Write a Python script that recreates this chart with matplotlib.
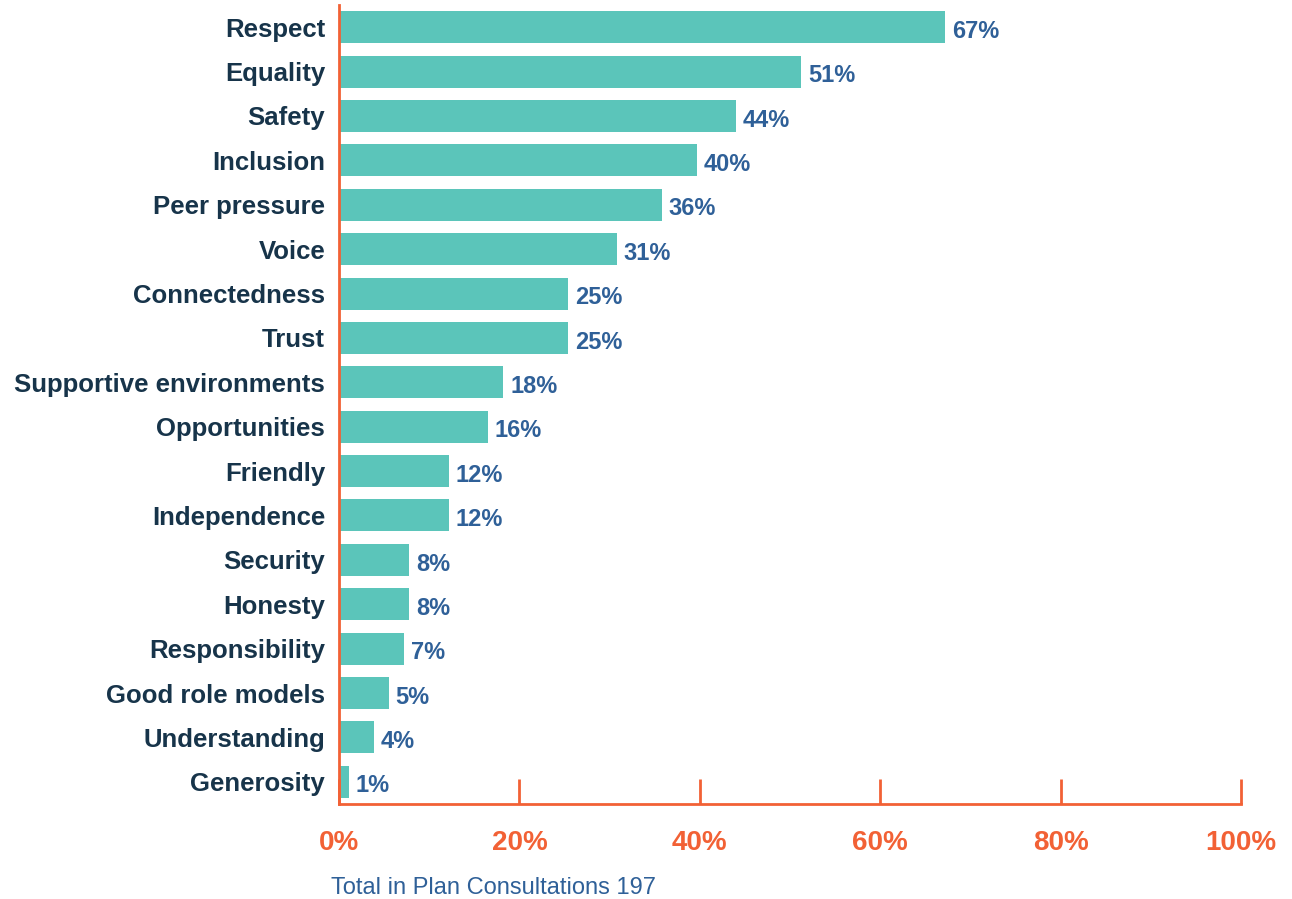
import matplotlib.pyplot as plt

plt.rcParams['font.family'] = ['Liberation Sans', 'DejaVu Sans']

# values (percent of plan consultations)
categories = ['Respect', 'Equality', 'Safety', 'Inclusion', 'Peer pressure', 'Voice',
              'Connectedness', 'Trust', 'Supportive environments', 'Opportunities',
              'Friendly', 'Independence', 'Security', 'Honesty', 'Responsibility',
              'Good role models', 'Understanding', 'Generosity']
values = [67.2, 51.2, 44.0, 39.7, 35.8, 30.8, 25.4, 25.4, 18.2, 16.5,
          12.2, 12.2, 7.8, 7.8, 7.2, 5.5, 3.9, 1.1]
labels = ['67%', '51%', '44%', '40%', '36%', '31%', '25%', '25%', '18%', '16%',
          '12%', '12%', '8%', '8%', '7%', '5%', '4%', '1%']
x_ticks = [0, 20, 40, 60, 80, 100]
footer = 'Total in Plan Consultations 197'

BAR = '#5BC5BA'
AXIS = '#F26135'
NAVY = '#17344A'
BLUE = '#2F6098'

fig = plt.figure(figsize=(12.92, 8.99), dpi=100)
ax = fig.add_axes([339 / 1292, 95 / 899, 902 / 1292, 799 / 899])

pos = list(range(len(categories)))
ax.barh(pos, values, height=0.72, color=BAR)

for y, v, lab in zip(pos, values, labels):
    ax.annotate(lab, xy=(v, y), xytext=(5, -3), textcoords='offset points',
                ha='left', va='center', fontsize=17, fontweight='bold', color=BLUE)

ax.set_xlim(0, 100)
ax.set_ylim(len(categories) - 0.5, -0.5)
ax.set_yticks(pos)
ax.set_yticklabels(categories, fontsize=18.5, fontweight='bold', color=NAVY)
ax.tick_params(axis='y', length=0, pad=10)

ax.set_xticks(x_ticks)
ax.set_xticklabels([f'{t}%' for t in x_ticks], fontsize=20, fontweight='bold', color=AXIS)
ax.tick_params(axis='x', direction='in', length=18, width=2, color=AXIS, pad=19)

for side in ['top', 'right']:
    ax.spines[side].set_visible(False)
for side in ['left', 'bottom']:
    ax.spines[side].set_color(AXIS)
    ax.spines[side].set_linewidth(2)

fig.text(331 / 1292, 1 - 888 / 899, footer, fontsize=17, color=BLUE,
         ha='left', va='center')

fig.savefig('out.png', dpi=100)
